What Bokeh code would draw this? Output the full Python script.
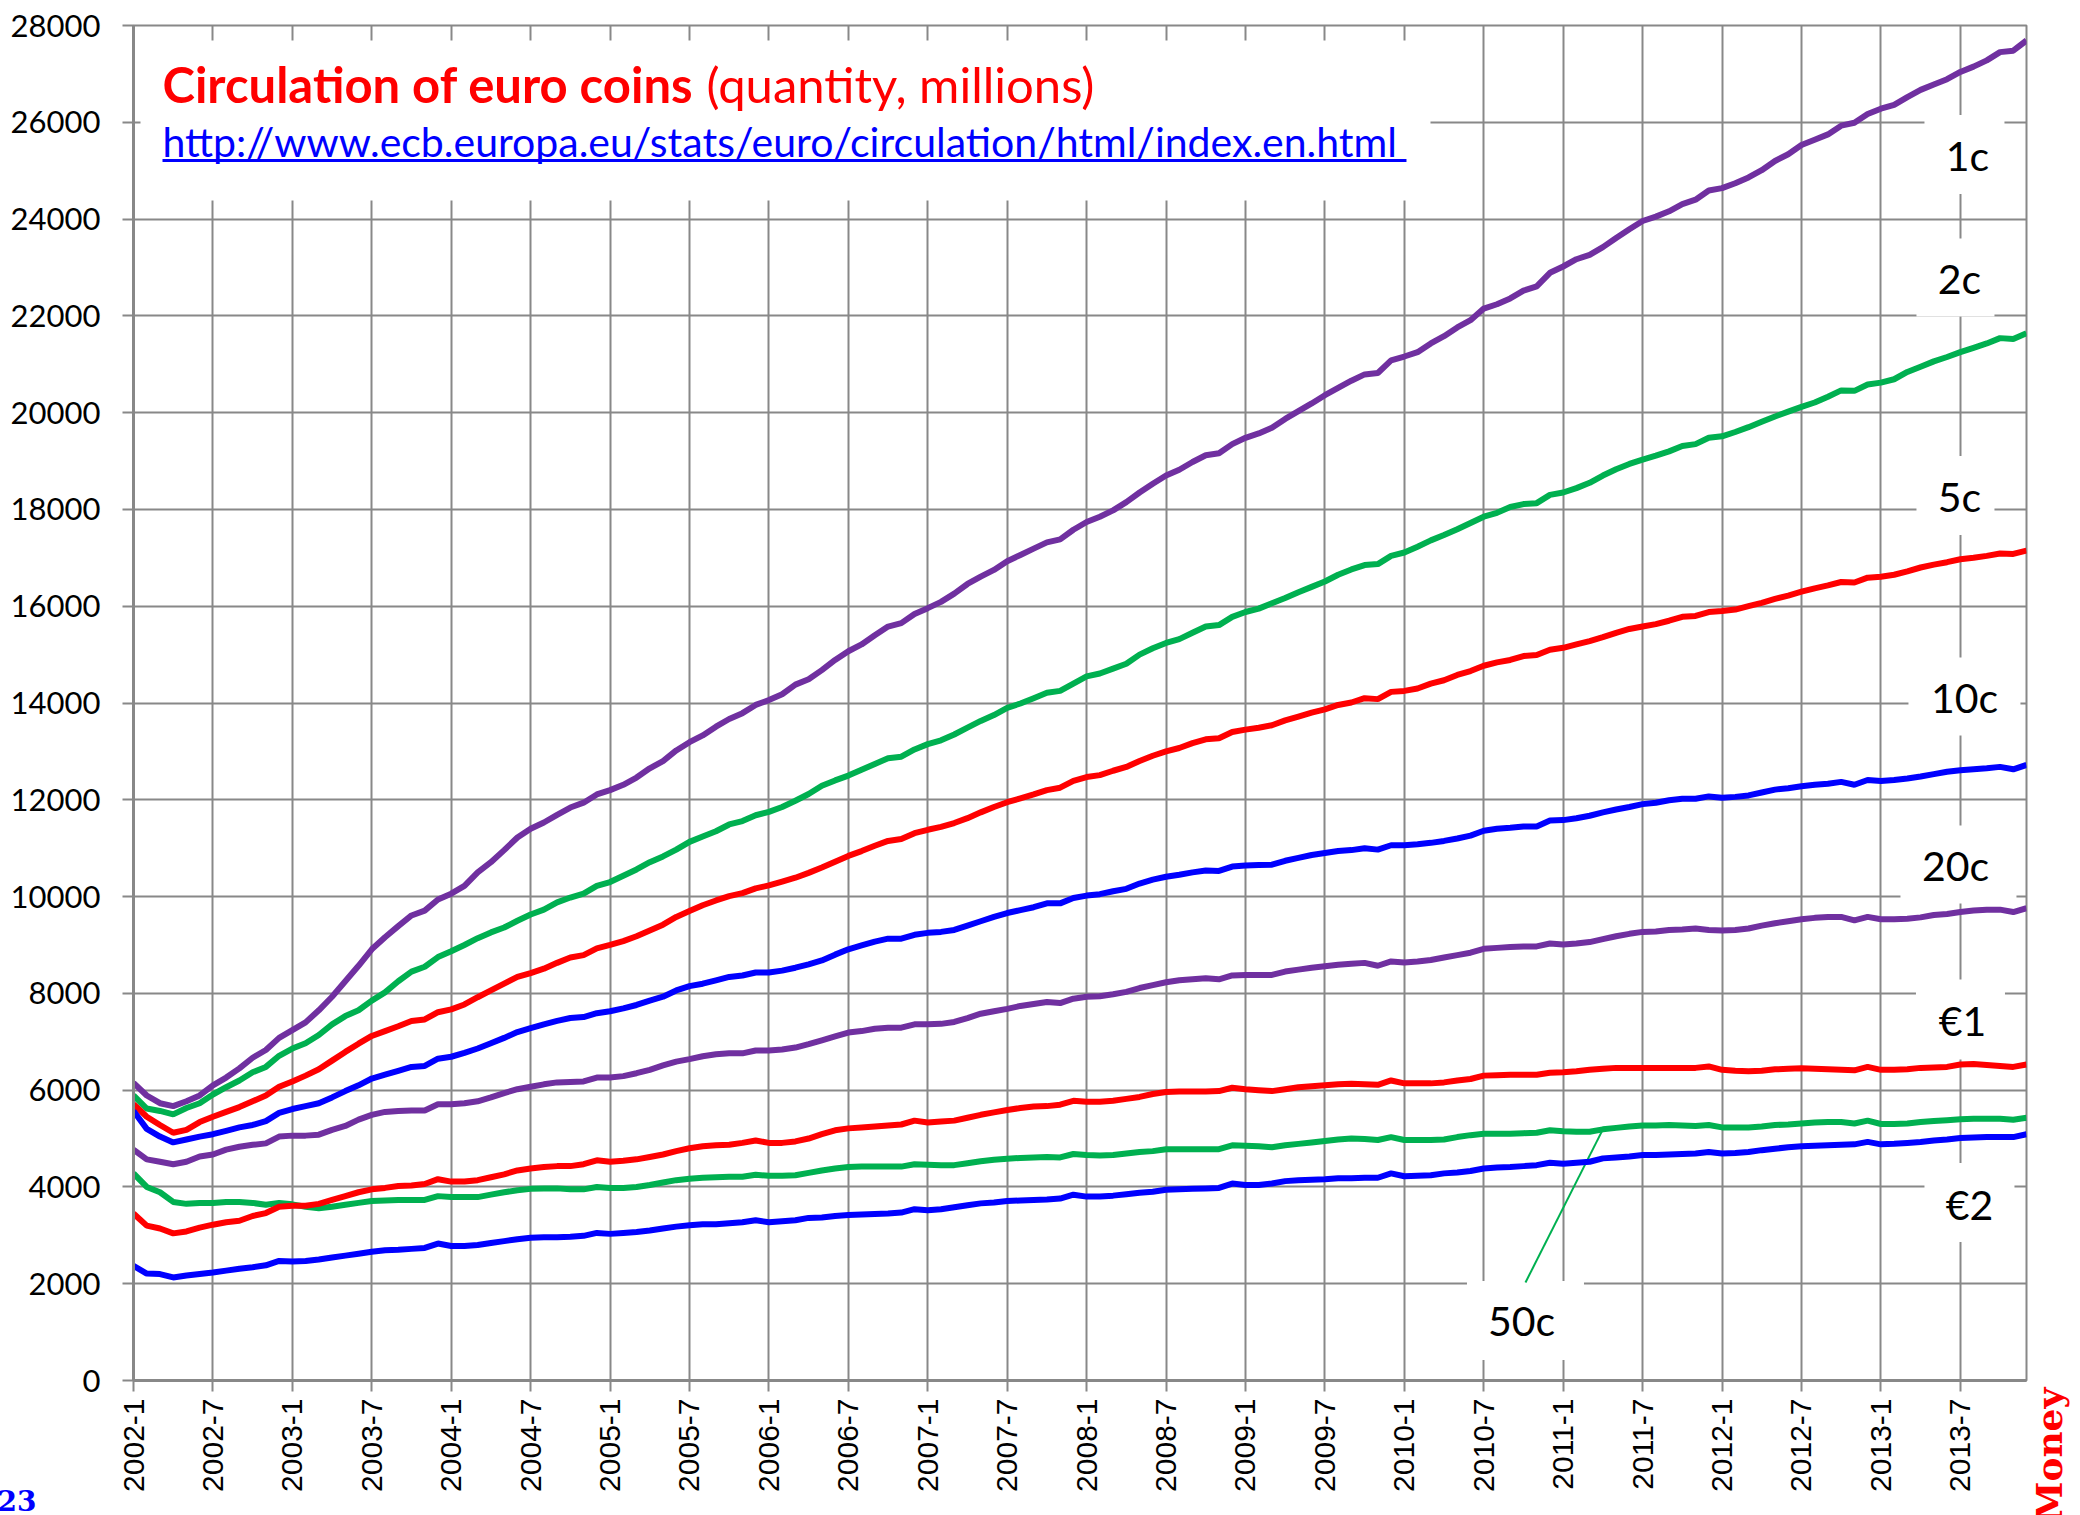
import math
from bokeh.plotting import figure
from bokeh.models import FixedTicker, Range1d, Label
from bokeh.core.properties import value
from bokeh.embed import file_html
from bokeh.resources import INLINE

# ---------------- data (millions of coins, monthly 2002-1 .. 2013-12) ----------------
months = list(range(144))
tick_pos = list(range(0, 144, 6))
tick_labels = [f"{2002 + i // 12}-{i % 12 + 1}" for i in tick_pos]
y_ticks = list(range(0, 28001, 2000))

c1 = [6150, 5890, 5730, 5670, 5770, 5890, 6100, 6260, 6450, 6670, 6830, 7080,
      7240, 7400, 7650, 7930, 8250, 8570, 8910, 9160, 9390, 9610, 9710, 9940,
      10060, 10220, 10500, 10710, 10960, 11220, 11400, 11530, 11690, 11840, 11940, 12110,
      12200, 12310, 12460, 12650, 12800, 13020, 13190, 13330, 13510, 13670, 13790, 13960,
      14060, 14180, 14380, 14490, 14680, 14890, 15070, 15210, 15400, 15580, 15650, 15840,
      15960, 16090, 16260, 16460, 16610, 16750, 16930, 17060, 17190, 17320, 17380, 17580,
      17740, 17850, 17980, 18150, 18350, 18530, 18700, 18820, 18980, 19120, 19160, 19350,
      19480, 19570, 19690, 19870, 20030, 20190, 20360, 20510, 20660, 20790, 20820, 21080,
      21160, 21250, 21430, 21580, 21760, 21910, 22150, 22240, 22360, 22520, 22610, 22890,
      23020, 23170, 23260, 23420, 23610, 23790, 23960, 24050, 24160, 24310, 24400, 24590,
      24640, 24740, 24860, 25010, 25200, 25340, 25530, 25640, 25750, 25930, 25990, 26170,
      26280, 26360, 26520, 26670, 26780, 26890, 27040, 27150, 27280, 27450, 27480, 27690]

c2 = [5890, 5620, 5570, 5500, 5630, 5730, 5910, 6060, 6200, 6370, 6480, 6710,
      6860, 6970, 7140, 7360, 7530, 7650, 7850, 8020, 8250, 8450, 8550, 8750,
      8870, 9000, 9140, 9260, 9360, 9500, 9630, 9730, 9880, 9980, 10060, 10220,
      10300, 10430, 10560, 10710, 10830, 10970, 11130, 11240, 11350, 11490, 11560, 11680,
      11750, 11850, 11980, 12120, 12290, 12400, 12500, 12620, 12740, 12860, 12890, 13040,
      13150, 13230, 13350, 13490, 13630, 13750, 13900, 13990, 14100, 14210, 14250, 14400,
      14550, 14610, 14710, 14810, 15000, 15130, 15240, 15320, 15450, 15580, 15610, 15780,
      15880, 15950, 16060, 16170, 16290, 16400, 16510, 16650, 16760, 16850, 16870, 17040,
      17110, 17230, 17360, 17470, 17590, 17720, 17850, 17930, 18050, 18110, 18130, 18300,
      18350, 18440, 18550, 18700, 18830, 18940, 19030, 19110, 19200, 19310, 19350, 19480,
      19510, 19600, 19700, 19810, 19920, 20020, 20120, 20210, 20330, 20460, 20450, 20580,
      20620, 20690, 20840, 20950, 21060, 21150, 21250, 21340, 21430, 21540, 21520, 21640]

c5 = [5710, 5450, 5280, 5120, 5180, 5340, 5450, 5550, 5650, 5770, 5890, 6070,
      6180, 6300, 6430, 6610, 6790, 6960, 7120, 7220, 7320, 7430, 7460, 7610,
      7670, 7770, 7920, 8060, 8200, 8340, 8420, 8510, 8630, 8740, 8790, 8930,
      9000, 9080, 9180, 9300, 9420, 9580, 9700, 9820, 9920, 10010, 10070, 10170,
      10230, 10310, 10390, 10490, 10600, 10720, 10840, 10940, 11050, 11150, 11190, 11310,
      11380, 11440, 11520, 11620, 11740, 11850, 11950, 12030, 12110, 12200, 12250, 12390,
      12470, 12510, 12600, 12680, 12800, 12910, 13000, 13070, 13170, 13250, 13270, 13400,
      13450, 13490, 13540, 13640, 13720, 13800, 13870, 13960, 14010, 14100, 14080, 14230,
      14250, 14300, 14400, 14470, 14580, 14660, 14770, 14840, 14890, 14970, 14990, 15100,
      15140, 15210, 15280, 15360, 15450, 15530, 15580, 15630, 15700, 15780, 15800, 15880,
      15900, 15930, 16000, 16070, 16150, 16220, 16300, 16370, 16430, 16500, 16490, 16590,
      16610, 16650, 16720, 16800, 16860, 16910, 16970, 17000, 17040, 17090, 17080, 17150]

c10 = [5570, 5200, 5040, 4920, 4980, 5040, 5090, 5160, 5230, 5280, 5360, 5530,
       5610, 5670, 5730, 5850, 5980, 6100, 6240, 6320, 6400, 6480, 6500, 6650,
       6690, 6770, 6860, 6970, 7080, 7200, 7280, 7360, 7430, 7490, 7510, 7590,
       7630, 7690, 7760, 7850, 7930, 8060, 8150, 8200, 8270, 8340, 8370, 8430,
       8430, 8470, 8530, 8600, 8680, 8800, 8910, 8990, 9070, 9130, 9130, 9210,
       9250, 9270, 9310, 9400, 9490, 9580, 9660, 9720, 9780, 9860, 9860, 9970,
       10020, 10050, 10110, 10160, 10270, 10350, 10410, 10450, 10500, 10540, 10530, 10620,
       10640, 10650, 10660, 10740, 10800, 10860, 10900, 10940, 10960, 11000, 10970, 11060,
       11060, 11080, 11110, 11150, 11200, 11260, 11360, 11400, 11420, 11450, 11450, 11570,
       11580, 11620, 11670, 11740, 11800, 11850, 11910, 11940, 11990, 12020, 12020, 12070,
       12040, 12060, 12090, 12150, 12210, 12240, 12280, 12310, 12330, 12370, 12310, 12410,
       12390, 12410, 12440, 12480, 12530, 12580, 12610, 12630, 12650, 12680, 12630, 12720]

c20 = [4770, 4570, 4520, 4470, 4520, 4630, 4670, 4770, 4830, 4870, 4900, 5040,
       5060, 5060, 5080, 5180, 5260, 5390, 5490, 5550, 5570, 5580, 5580, 5710,
       5710, 5730, 5770, 5850, 5940, 6020, 6070, 6120, 6160, 6170, 6180, 6260,
       6260, 6290, 6350, 6420, 6510, 6590, 6640, 6700, 6740, 6760, 6760, 6820,
       6820, 6840, 6880, 6950, 7030, 7110, 7190, 7220, 7270, 7290, 7290, 7360,
       7360, 7370, 7410, 7490, 7580, 7630, 7680, 7740, 7780, 7820, 7800, 7890,
       7930, 7940, 7980, 8030, 8110, 8170, 8230, 8270, 8290, 8310, 8290, 8370,
       8380, 8380, 8380, 8450, 8490, 8530, 8560, 8590, 8610, 8630, 8570, 8660,
       8640, 8660, 8690, 8740, 8790, 8840, 8920, 8940, 8960, 8970, 8970, 9030,
       9010, 9030, 9060, 9120, 9180, 9230, 9270, 9280, 9310, 9320, 9340, 9310,
       9300, 9310, 9340, 9400, 9450, 9490, 9530, 9560, 9580, 9580, 9510, 9580,
       9530, 9530, 9540, 9570, 9620, 9640, 9680, 9710, 9730, 9730, 9680, 9760]

c50 = [4280, 4000, 3890, 3690, 3650, 3670, 3670, 3690, 3690, 3670, 3630, 3670,
       3640, 3590, 3560, 3590, 3630, 3670, 3710, 3720, 3730, 3730, 3730, 3810,
       3790, 3790, 3790, 3840, 3890, 3930, 3960, 3970, 3970, 3950, 3950, 4000,
       3980, 3980, 4000, 4040, 4090, 4140, 4170, 4190, 4200, 4210, 4210, 4250,
       4230, 4230, 4240, 4290, 4340, 4380, 4410, 4420, 4420, 4420, 4420, 4470,
       4460, 4450, 4450, 4490, 4530, 4560, 4580, 4600, 4610, 4620, 4610, 4680,
       4660, 4650, 4660, 4690, 4720, 4740, 4780, 4780, 4780, 4780, 4780, 4860,
       4850, 4840, 4820, 4860, 4890, 4920, 4950, 4980, 5000, 4990, 4970, 5030,
       4970, 4970, 4970, 4980, 5030, 5070, 5100, 5100, 5100, 5110, 5120, 5170,
       5150, 5140, 5140, 5190, 5220, 5250, 5270, 5270, 5280, 5270, 5260, 5280,
       5230, 5230, 5230, 5250, 5280, 5290, 5310, 5330, 5340, 5340, 5310, 5370,
       5300, 5300, 5310, 5340, 5360, 5380, 5400, 5410, 5410, 5410, 5390, 5430]

e1 = [3450, 3200, 3140, 3040, 3080, 3160, 3220, 3270, 3300, 3400, 3460, 3590,
      3610, 3610, 3650, 3730, 3810, 3890, 3950, 3980, 4020, 4030, 4060, 4160,
      4110, 4110, 4140, 4200, 4260, 4340, 4380, 4410, 4430, 4430, 4470, 4550,
      4520, 4540, 4570, 4620, 4670, 4740, 4800, 4840, 4860, 4870, 4910, 4960,
      4910, 4910, 4940, 5000, 5090, 5170, 5210, 5230, 5250, 5270, 5290, 5370,
      5330, 5350, 5370, 5430, 5490, 5540, 5590, 5630, 5660, 5670, 5700, 5780,
      5760, 5760, 5780, 5820, 5860, 5920, 5960, 5970, 5970, 5970, 5980, 6050,
      6020, 6000, 5980, 6020, 6060, 6080, 6100, 6120, 6130, 6120, 6110, 6200,
      6140, 6140, 6140, 6160, 6200, 6230, 6300, 6310, 6320, 6320, 6320, 6360,
      6370, 6390, 6420, 6440, 6460, 6460, 6460, 6460, 6460, 6460, 6460, 6490,
      6420, 6400, 6390, 6400, 6430, 6440, 6450, 6440, 6430, 6420, 6410, 6480,
      6420, 6420, 6430, 6460, 6470, 6480, 6530, 6540, 6520, 6500, 6480, 6530]

e2 = [2370, 2210, 2200, 2130, 2170, 2200, 2230, 2270, 2310, 2340, 2380, 2470,
      2460, 2470, 2500, 2540, 2580, 2620, 2660, 2690, 2700, 2720, 2740, 2830,
      2780, 2780, 2800, 2840, 2880, 2920, 2950, 2960, 2960, 2970, 2990, 3050,
      3030, 3050, 3070, 3100, 3140, 3180, 3210, 3230, 3230, 3250, 3270, 3310,
      3270, 3290, 3310, 3360, 3370, 3400, 3420, 3430, 3440, 3450, 3470, 3540,
      3520, 3540, 3580, 3620, 3660, 3680, 3710, 3720, 3730, 3740, 3760, 3840,
      3800, 3800, 3820, 3850, 3880, 3900, 3940, 3950, 3960, 3970, 3980, 4070,
      4040, 4040, 4070, 4120, 4140, 4150, 4160, 4180, 4180, 4190, 4190, 4280,
      4220, 4230, 4240, 4280, 4300, 4330, 4380, 4400, 4410, 4430, 4450, 4500,
      4480, 4500, 4520, 4590, 4610, 4630, 4660, 4660, 4670, 4680, 4690, 4720,
      4690, 4700, 4720, 4760, 4790, 4820, 4840, 4850, 4860, 4870, 4880, 4930,
      4880, 4890, 4910, 4930, 4960, 4980, 5010, 5020, 5030, 5030, 5030, 5090]

series_names = ["1c", "2c", "5c", "10c", "20c", "50c", "€1", "€2"]
series_values = [c1, c2, c5, c10, c20, c50, e1, e2]
series_colors = ["#7030A0", "#00B050", "#FF0000", "#0000FF",
                 "#7030A0", "#00B050", "#FF0000", "#0000FF"]

# ---------------- figure ----------------
X0, PXM = 133.0, 13.238          # page px of month 0, px per month
Y0, PXV = 1380.0, 1355.0 / 28000  # page px of value 0, px per unit


def dx(px):
    return (px - X0) / PXM


def dy(py):
    return (Y0 - py) / PXV


GRID = "#888888"
W, H = 2075, 1515
p = figure(width=W, height=H, x_range=Range1d(0, 143), y_range=Range1d(0, 28000),
           output_backend="svg", toolbar_location=None,
           min_border_left=133, min_border_right=W - 2026, min_border_top=25,
           min_border_bottom=H - 1380)
p.title.visible = False
p.background_fill_color = "white"
p.border_fill_color = "white"
p.outline_line_color = GRID
p.outline_line_width = 2

p.xaxis.ticker = FixedTicker(ticks=tick_pos)
p.xaxis.major_label_overrides = {t: l for t, l in zip(tick_pos, tick_labels)}
p.xaxis.major_label_orientation = math.pi / 2
p.yaxis.ticker = FixedTicker(ticks=y_ticks)
for ax in (p.xaxis, p.yaxis):
    ax.axis_line_color = GRID
    ax.axis_line_width = 3
    ax.major_tick_line_color = GRID
    ax.major_tick_line_width = 2
    ax.major_tick_in = 0
    ax.major_tick_out = 11
    ax.minor_tick_line_color = None
    ax.major_label_text_color = "black"
p.xaxis.major_label_text_font = "Liberation Sans"
p.xaxis.major_label_text_font_size = "30px"
p.xaxis.major_label_standoff = 7
p.yaxis.major_label_text_font = "Lato"
p.yaxis.major_label_text_font_size = "31px"
p.yaxis.major_label_standoff = 22
p.xgrid.grid_line_color = GRID
p.ygrid.grid_line_color = GRID
p.xgrid.grid_line_width = 2
p.ygrid.grid_line_width = 2

# white boxes that hide the grid behind the texts (page px: cx, cy, w, h)
boxes = [(785, 120, 1290, 160),
         (1964, 154, 80, 79), (1955, 277, 78, 78), (1955, 495, 78, 79),
         (1964, 696, 112, 78), (1958, 864, 116, 78), (1960, 1019, 89, 80),
         (1969, 1202, 90, 79), (1525, 1320, 117, 79)]
p.rect(x=[dx(b[0]) for b in boxes], y=[dy(b[1]) for b in boxes],
       width=[b[2] for b in boxes], height=[b[3] for b in boxes],
       width_units="screen", height_units="screen",
       fill_color="white", line_color=None)

# leader line for 50c
p.line(x=[dx(1525), 111], y=[dy(1282), c50[111]], line_color="#00B050", line_width=2)

for vals, col in zip(series_values, series_colors):
    p.line(x=months, y=vals, line_color=col, line_width=6)

# coin labels
lab_pos = {"1c": (1967, 155), "2c": (1959, 278), "5c": (1959, 496), "10c": (1964, 697),
           "20c": (1955, 865), "€1": (1962, 1020), "€2": (1969, 1204), "50c": (1521, 1320)}
p.text(x=[dx(lab_pos[n][0]) for n in series_names], y=[dy(lab_pos[n][1]) for n in series_names],
       text=series_names, text_font=value("Lato"), text_font_size=value("41px"),
       text_align="center", text_baseline="middle", text_color="black")

# title and link
p.text(x=[dx(162)], y=[dy(83)], text=["Circulation of euro coins"],
       text_font=value("Lato"), text_font_style="bold", text_font_size=value("49px"),
       text_color="#FF0000", text_baseline="middle")
p.text(x=[dx(706)], y=[dy(83)], text=["(quantity, millions)"],
       text_font=value("Lato"), text_font_size=value("49px"),
       text_color="#FF0000", text_baseline="middle")
p.text(x=[dx(162)], y=[dy(141)], text=["http://www.ecb.europa.eu/stats/euro/circulation/html/index.en.html"],
       text_font=value("Lato"), text_font_size=value("41px"),
       text_color="#0000FF", text_baseline="middle")
p.line(x=[dx(162), dx(1406)], y=[dy(160), dy(160)], line_color="#0000FF", line_width=3)

# page furniture outside the frame (placed in side panels so it is not clipped)
p.add_layout(Label(x=dx(-3), y=dy(1489), text="23", text_font="DejaVu Serif",
                   text_font_style="bold", text_font_size="28px", text_color="#0000FF",
                   text_baseline="top", text_align="left"), "below")
p.add_layout(Label(x=dx(2049), y=dy(1454), text="Money", text_font="DejaVu Serif",
                   text_font_style="bold", text_font_size="36px", text_color="#FF0000",
                   angle=math.pi / 2, angle_units="rad",
                   text_baseline="middle", text_align="center"), "right")

open("out.html", "w").write(file_html(p, INLINE))
